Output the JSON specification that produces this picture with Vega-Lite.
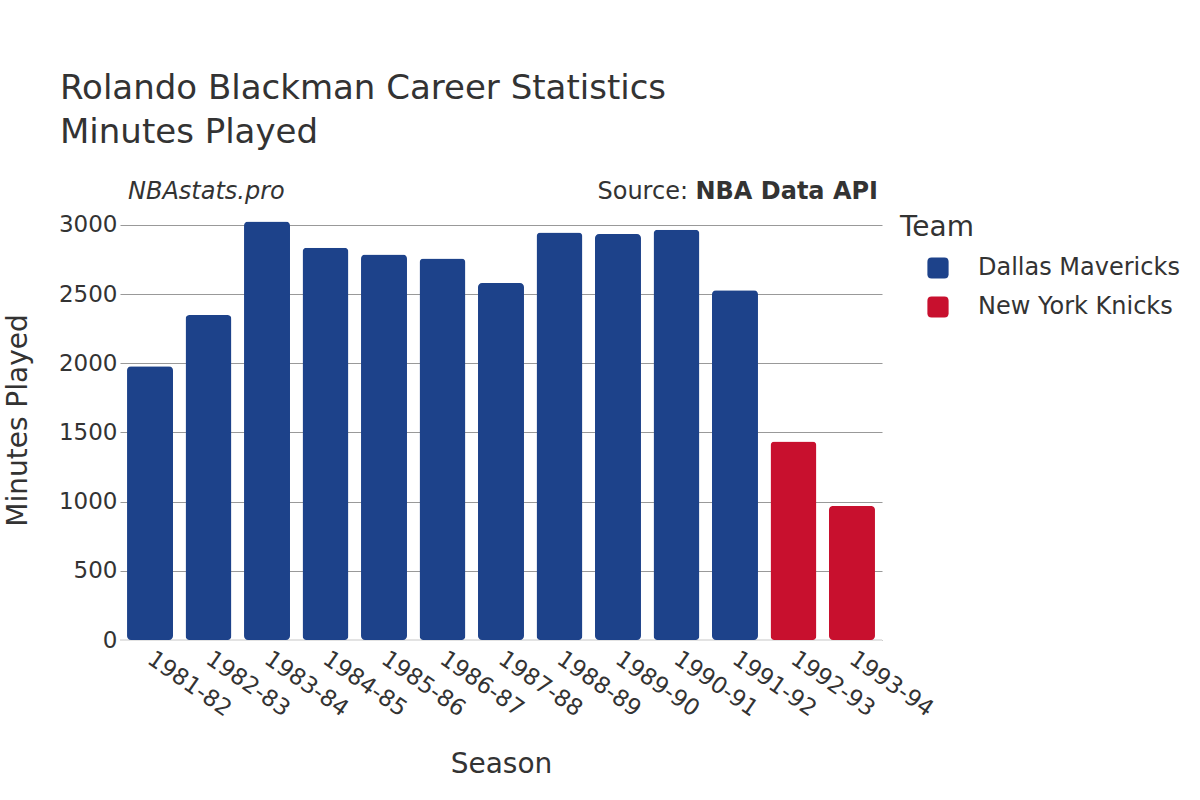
{
  "$schema": "https://vega.github.io/schema/vega-lite/v6.json",
  "width": 762,
  "height": 440,
  "autosize": {"type": "none"},
  "padding": {"left": 120, "top": 200, "right": 318, "bottom": 160},
  "background": "white",
  "config": {
    "font": "DejaVu Sans",
    "view": {"stroke": null},
    "axis": {"labelColor": "#333333", "titleColor": "#333333", "labelFont": "DejaVu Sans", "titleFont": "DejaVu Sans", "titleFontWeight": "normal"}
  },
  "title": {
    "text": ["Rolando Blackman Career Statistics", "Minutes Played"],
    "anchor": "start",
    "frame": "group",
    "dx": -60,
    "offset": 30,
    "fontSize": 34,
    "fontWeight": "normal",
    "lineHeight": 44,
    "color": "#333333",
    "font": "DejaVu Sans"
  },
  "data": {
    "values": [
      {"Season": "1981-82", "Team": "Dallas Mavericks", "MIN": 1979},
      {"Season": "1982-83", "Team": "Dallas Mavericks", "MIN": 2349},
      {"Season": "1983-84", "Team": "Dallas Mavericks", "MIN": 3025},
      {"Season": "1984-85", "Team": "Dallas Mavericks", "MIN": 2834},
      {"Season": "1985-86", "Team": "Dallas Mavericks", "MIN": 2787},
      {"Season": "1986-87", "Team": "Dallas Mavericks", "MIN": 2758},
      {"Season": "1987-88", "Team": "Dallas Mavericks", "MIN": 2580},
      {"Season": "1988-89", "Team": "Dallas Mavericks", "MIN": 2946},
      {"Season": "1989-90", "Team": "Dallas Mavericks", "MIN": 2934},
      {"Season": "1990-91", "Team": "Dallas Mavericks", "MIN": 2965},
      {"Season": "1991-92", "Team": "Dallas Mavericks", "MIN": 2527},
      {"Season": "1992-93", "Team": "New York Knicks", "MIN": 1434},
      {"Season": "1993-94", "Team": "New York Knicks", "MIN": 969}
    ]
  },
  "layer": [
    {
      "data": {"values": [{}]},
      "mark": {"type": "rule", "color": "#e3e3e3", "strokeWidth": 2},
      "encoding": {
        "y": {
          "datum": 0, "type": "quantitative",
          "scale": {"domain": [0, 3180], "nice": false},
          "axis": {"grid": true, "values": [0, 500, 1000, 1500, 2000, 2500, 3000], "format": "d", "labelFontSize": 23, "titleFontSize": 28, "title": "Minutes Played", "titlePadding": 26, "ticks": false, "domain": false, "gridColor": "#999999", "gridWidth": 1, "labelPadding": 3}
        }
      }
    },
    {
      "mark": {"type": "bar", "cornerRadius": 4},
      "encoding": {
        "x": {
          "field": "Season", "type": "nominal", "sort": null,
          "scale": {"paddingInner": 0.214, "paddingOuter": 0.12},
          "axis": {"labelAngle": 35, "labelAlign": "left", "labelBaseline": "middle", "labelFontSize": 23, "titleFontSize": 28, "title": "Season", "titlePadding": 30, "ticks": false, "domain": false, "labelPadding": 16}
        },
        "y": {
          "field": "MIN", "type": "quantitative",
          "scale": {"domain": [0, 3180], "nice": false},
          "axis": {"grid": true, "values": [0, 500, 1000, 1500, 2000, 2500, 3000], "format": "d", "labelFontSize": 23, "titleFontSize": 28, "title": "Minutes Played", "titlePadding": 26, "ticks": false, "domain": false, "gridColor": "#999999", "gridWidth": 1, "labelPadding": 3}
        },
        "color": {
          "field": "Team", "type": "nominal",
          "scale": {"domain": ["Dallas Mavericks", "New York Knicks"], "range": ["#1D428A", "#C8102E"]},
          "legend": {
            "orient": "none", "legendX": 780, "legendY": 14,
            "title": "Team", "titleFontSize": 28, "titleFontWeight": "normal", "titleColor": "#333333", "titlePadding": 14,
            "labelFontSize": 24, "labelColor": "#333333", "labelOffset": 28, "labelLimit": 400,
            "symbolType": "M-1,-0.6 Q-1,-1 -0.6,-1 L0.6,-1 Q1,-1 1,-0.6 L1,0.6 Q1,1 0.6,1 L-0.6,1 Q-1,1 -1,0.6 Z",
            "symbolSize": 450, "symbolStrokeWidth": 0, "rowPadding": 15, "symbolOffset": 26
          }
        }
      }
    },
    {
      "data": {"values": [{}]},
      "mark": {"type": "text", "text": "NBAstats.pro", "fontStyle": "italic", "fontSize": 24, "align": "left", "baseline": "middle", "color": "#333333", "x": 8, "y": -8},
      "encoding": {}
    },
    {
      "data": {"values": [{}]},
      "mark": {"type": "text", "text": "NBA Data API", "fontWeight": "bold", "fontSize": 24, "align": "right", "baseline": "middle", "color": "#333333", "x": 758, "y": -8},
      "encoding": {}
    },
    {
      "data": {"values": [{}]},
      "mark": {"type": "text", "text": "Source:", "fontSize": 24, "align": "right", "baseline": "middle", "color": "#333333", "x": 568, "y": -8},
      "encoding": {}
    }
  ]
}
